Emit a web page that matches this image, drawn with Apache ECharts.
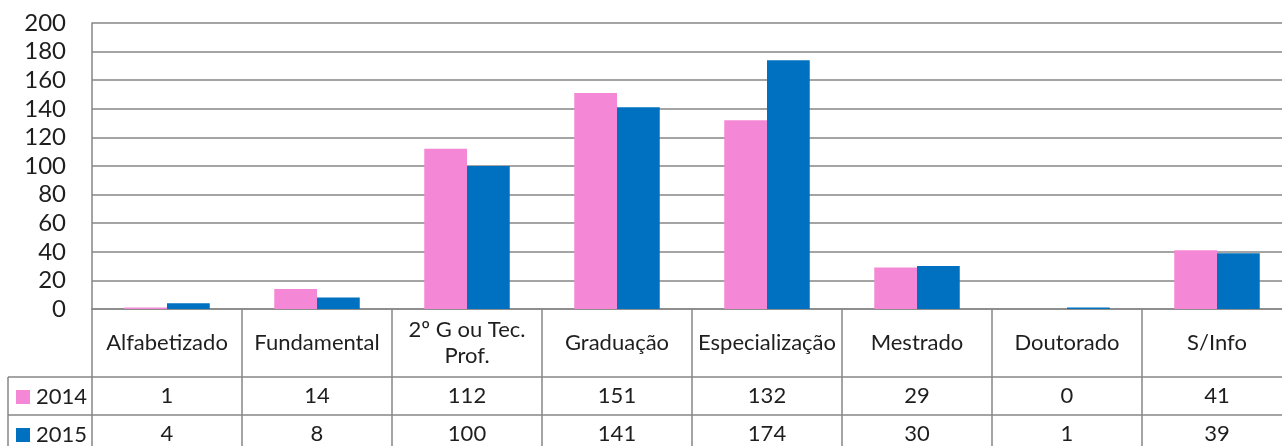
<!DOCTYPE html>
<html>
<head>
<meta charset="utf-8">
<script src="https://cdn.jsdelivr.net/npm/echarts@6/dist/echarts.min.js"></script>
<style>
html,body{margin:0;padding:0;background:#fff;}
#c{width:1282px;height:446px;}
</style>
</head>
<body>
<div id="c"></div>
<script>
const categories = ['Alfabetizado', 'Fundamental', '2º G ou Tec. Prof.', 'Graduação', 'Especialização', 'Mestrado', 'Doutorado', 'S/Info'];
const seriesNames = ['2014', '2015'];
const v2014 = [1, 14, 112, 151, 132, 29, 0, 41];
const v2015 = [4, 8, 100, 141, 174, 30, 1, 39];
const yMin = 0, yMax = 200, yStep = 20;

const FONT = 'Lato';
const TXT = '#1e1e1e';
const GRID = '#868686';
const colors = ['#F488D6', '#0070C0'];

// wrap long labels at the last space (as the spreadsheet's table does)
const wrap = (s) => {
  if (s.length <= 14) return s;
  const i = s.lastIndexOf(' ');
  return i > 0 ? s.slice(0, i) + '\n' + s.slice(i + 1) : s;
};

const chart = echarts.init(document.getElementById('c'));
const rowAxis = (vals, offset) => ({
  type: 'category', gridIndex: 0, position: 'bottom', offset: offset,
  data: vals.map(String),
  axisLine: {show: true, lineStyle: {color: GRID, width: 1.5}},
  axisTick: {show: false},
  axisLabel: {interval: 0, margin: 19, verticalAlign: 'middle', color: TXT, fontFamily: FONT, fontSize: 22}
});
const legendItem = (name, top) => ({
  data: [name], left: 16, top: top, padding: 0,
  itemWidth: 14, itemHeight: 14, icon: 'rect',
  textStyle: {color: TXT, fontFamily: FONT, fontSize: 22, padding: [0, 0, 0, 1]}
});
chart.setOption({
  animation: false,
  color: colors,
  grid: {left: 92, right: -10, top: 23, bottom: 137, containLabel: false, outerBoundsMode: 'none'},
  legend: [legendItem(seriesNames[0], 386), legendItem(seriesNames[1], 424)],
  xAxis: [
    {
      type: 'category', data: categories, position: 'bottom',
      axisLine: {show: true, lineStyle: {color: GRID, width: 1.5}},
      axisTick: {show: true, interval: 0, length: 137, lineStyle: {color: GRID, width: 1.5}},
      axisLabel: {interval: 0, margin: 34, verticalAlign: 'middle', formatter: wrap,
        lineHeight: 26, color: TXT, fontFamily: FONT, fontSize: 22}
    },
    rowAxis(v2014, 68),
    rowAxis(v2015, 106)
  ],
  yAxis: {
    type: 'value', min: yMin, max: yMax, interval: yStep,
    axisLine: {show: true, lineStyle: {color: GRID, width: 1.5}},
    axisTick: {show: false},
    splitLine: {show: true, lineStyle: {color: GRID, width: 1.5}},
    axisLabel: {margin: 26, color: TXT, fontFamily: FONT, fontSize: 24}
  },
  series: [
    {name: seriesNames[0], type: 'bar', data: v2014, barGap: '0%', barCategoryGap: '43%'},
    {name: seriesNames[1], type: 'bar', data: v2015, barGap: '0%', barCategoryGap: '43%'}
  ],
  graphic: [
    {type: 'line', shape: {x1: 8, y1: 377, x2: 92, y2: 377}, style: {stroke: GRID, lineWidth: 1.5}},
    {type: 'line', shape: {x1: 8, y1: 415, x2: 92, y2: 415}, style: {stroke: GRID, lineWidth: 1.5}},
    {type: 'line', shape: {x1: 8, y1: 377, x2: 8, y2: 446}, style: {stroke: GRID, lineWidth: 1.5}}
  ]
});
</script>
</body>
</html>
